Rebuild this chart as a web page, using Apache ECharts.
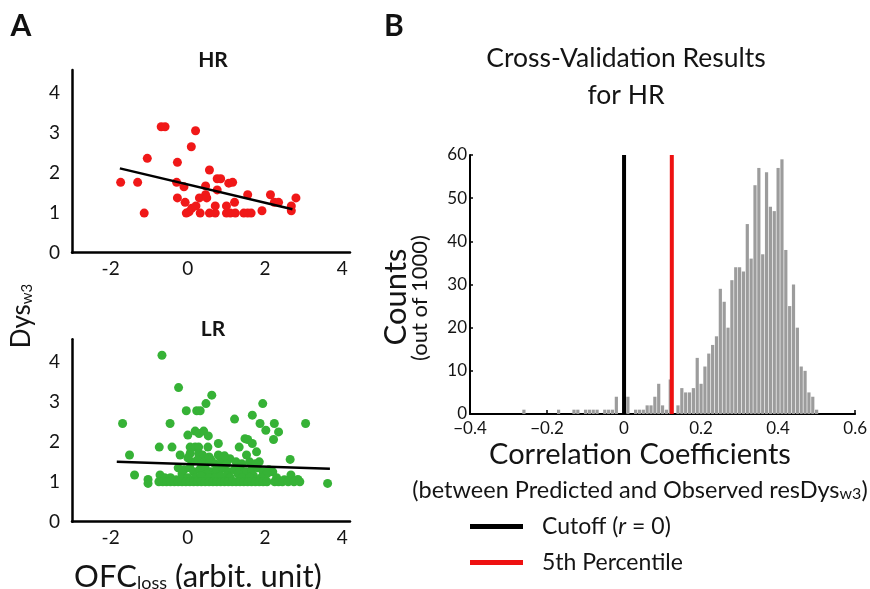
<!DOCTYPE html>
<html><head><meta charset="utf-8">
<script src="https://cdn.jsdelivr.net/npm/echarts@6/dist/echarts.min.js"></script>
<style>html,body{margin:0;padding:0;background:#fff}#c{width:870px;height:589px}</style>
</head><body><div id="c"></div>
<script>
// ---------- Panel A: HR scatter ----------
const hrX = [-1.74,-1.30,-1.13,-1.05,-0.69,-0.59,-0.27,-0.29,-0.27,-0.10,-0.07,-0.04,0.03,0.10,0.21,0.09,0.20,0.30,0.32,0.46,0.46,0.49,0.56,0.56,0.71,0.71,0.76,0.76,0.85,1.00,1.00,1.10,1.06,1.16,1.21,1.23,1.45,1.55,1.55,1.64,1.92,2.14,2.24,2.35,2.68,2.68,2.80];
const hrY = [1.76,1.76,0.99,2.36,3.15,3.15,2.26,1.76,1.37,1.65,1.26,0.99,1.02,1.11,1.17,2.65,3.05,1.37,0.99,1.67,1.45,1.37,2.07,0.99,0.99,1.17,1.57,1.85,1.85,1.17,0.99,0.99,1.74,1.76,1.26,0.99,0.99,1.45,0.99,0.99,1.05,1.45,1.26,1.26,1.17,1.05,1.37];
const hrFitX = [-1.76, 2.71];
const hrFitY = [2.11, 1.085];

// ---------- Panel A: LR scatter ----------
const lrX = [-0.67,-0.24,0.62,0.47,1.94,-0.04,0.23,0.32,1.21,1.67,-1.69,-0.46,1.87,2.24,3.05,2.02,2.35,2.22,0.00,0.19,0.29,0.41,0.53,1.48,1.55,1.67,-0.74,-0.41,0.06,0.19,0.28,0.52,0.79,1.33,-1.51,-0.20,0.06,0.28,0.38,0.79,1.09,1.52,1.78,2.65,-1.38,-1.03,-1.03,-0.72,2.67,3.62,2.85,
 0.10,0.25,0.45,0.60,0.70,0.90,1.00,1.25,1.40,1.60,1.75,1.85,0.35,0.00,0.55,0.85,0.95,
 -0.25,-0.10,0.05,0.15,0.30,0.45,0.60,0.75,0.90,1.05,1.20,1.35,1.50,1.65,1.80,1.95,2.10,2.20,-0.15,0.50,1.00,1.30,1.70,2.05,
 -0.60,-0.45,-0.30,-0.15,0.00,0.20,0.35,0.55,0.70,0.85,1.10,1.40,1.60,1.90,2.30,2.50,
 -0.75,-0.65,-0.55,-0.45,-0.35,-0.25,-0.15,-0.05,0.05,0.15,0.25,0.35,0.45,0.55,0.65,0.75,0.85,0.95,1.05,1.15,1.25,1.35,1.45,1.55,1.65,1.75,1.85,1.95,2.05,2.25,2.35,2.45,2.60,2.75,2.90];
const lrY = [4.17,3.36,3.17,2.96,2.96,2.78,2.78,2.78,2.57,2.67,2.46,2.46,2.46,2.46,2.46,2.29,2.25,2.06,2.17,2.27,2.21,2.27,2.15,2.08,2.06,1.96,1.87,1.87,1.87,1.87,1.87,1.87,1.96,1.87,1.67,1.67,1.71,1.71,1.67,1.67,1.58,1.67,1.75,1.56,1.17,1.06,0.96,1.17,1.17,0.96,1.06,
 1.50,1.55,1.50,1.55,1.45,1.50,1.45,1.50,1.45,1.50,1.45,1.50,1.45,1.60,1.62,1.60,1.65,
 1.35,1.30,1.35,1.25,1.30,1.35,1.25,1.30,1.35,1.25,1.30,1.35,1.25,1.30,1.35,1.25,1.30,1.25,1.20,1.20,1.15,1.20,1.15,1.20,
 1.10,1.10,1.05,1.10,1.10,1.10,1.15,1.10,1.10,1.15,1.10,1.10,1.10,1.10,1.10,1.05,
 1.0,1.0,1.0,1.0,1.0,1.0,1.0,1.0,1.0,1.0,1.0,1.0,1.0,1.0,1.0,1.0,1.0,1.0,1.0,1.0,1.0,1.0,1.0,1.0,1.0,1.0,1.0,1.0,1.0,1.0,1.0,1.0,1.0,1.0,1.0];
const lrFitX = [-1.84, 3.68];
const lrFitY = [1.50, 1.325];

const scatterXTicks = [-2, 0, 2, 4];
const scatterYTicks = [0, 1, 2, 3, 4];

// ---------- Panel B: histogram ----------
const histBins = [-0.26,-0.17,-0.13,-0.12,-0.10,-0.09,-0.08,-0.07,-0.05,-0.04,-0.03,-0.02,0.01,0.03,0.04,0.05,0.06,0.07,0.08,0.09,0.10,0.11,0.12,0.14,0.15,0.16,0.17,0.18,0.19,0.20,0.21,0.22,0.23,0.24,0.25,0.26,0.27,0.28,0.29,0.30,0.31,0.32,0.33,0.34,0.35,0.36,0.37,0.38,0.39,0.40,0.41,0.42,0.43,0.44,0.45,0.46,0.47,0.48,0.49,0.50];
const histCounts = [1,1,1,1,1,1,1,1,1,1,1,4,4,1,1,1,2,2,4,7,2,1,8,2,6,5,5,6,13,7,11,14,16,18,29,26,20,31,34,34,33,44,36,53,57,37,56,48,47,57,59,38,25,30,20,11,10,5,4,1];
const cutoffX = [0, 0];
const percentileX = [0.124, 0.124];
const vLineY = [0, 60];

const FONT = 'Lato';
const TXT = '#141414';

const chart = echarts.init(document.getElementById('c'));

function scatterAxes(gi) {
  return {
    x: {
      gridIndex: gi, type: 'value', min: -3, max: 4.2,
      axisLine: { onZero: false, lineStyle: { color: '#000', width: 2.5 } },
      axisTick: { show: false }, splitLine: { show: false },
      axisLabel: { customValues: scatterXTicks, fontSize: 19, color: TXT, fontFamily: FONT, margin: 7 }
    },
    y: {
      gridIndex: gi, type: 'value', min: 0, max: 4.57,
      axisLine: { onZero: false, lineStyle: { color: '#000', width: 2.5 } },
      axisTick: { show: false }, splitLine: { show: false },
      axisLabel: { customValues: scatterYTicks, fontSize: 19, color: TXT, fontFamily: FONT, margin: 12 }
    }
  };
}
const a0 = scatterAxes(0), a1 = scatterAxes(1);

function txt(x, y, text, size, extra) {
  return Object.assign({ type: 'text', x: x, y: y,
    style: Object.assign({ text: text, align: 'center', verticalAlign: 'middle', fontSize: size, fontFamily: FONT, fill: TXT }, (extra && extra.style) || {}) },
    extra && extra.rotation ? { rotation: extra.rotation } : {});
}

const option = {
  animation: false,
  backgroundColor: '#fff',
  grid: [
    { left: 72, top: 70, width: 278, height: 182.7 },
    { left: 72, top: 339.3, width: 278, height: 182.4 },
    { left: 470, top: 155, width: 390, height: 259 }
  ],
  xAxis: [a0.x, a1.x, {
    gridIndex: 2, type: 'value', min: -0.4, max: 0.6, interval: 0.2,
    axisLine: { onZero: false, lineStyle: { color: '#000', width: 2 } },
    axisTick: { show: true, inside: true, length: 4, lineStyle: { color: '#000', width: 1.5 } },
    splitLine: { show: false },
    axisLabel: { fontSize: 17, color: TXT, fontFamily: FONT, margin: 6,
      formatter: v => (Math.round(v * 10) / 10).toString().replace('-', '\u2212') }
  }],
  yAxis: [a0.y, a1.y, {
    gridIndex: 2, type: 'value', min: 0, max: 60, interval: 10,
    axisLine: { onZero: false, lineStyle: { color: '#000', width: 2 } },
    axisTick: { show: true, inside: true, length: 3, lineStyle: { color: '#000', width: 1.5 } },
    splitLine: { show: false },
    axisLabel: { fontSize: 17, color: TXT, fontFamily: FONT, margin: 3 }
  }],
  legend: {
    data: ['Cutoff', '5th Percentile'],
    orient: 'vertical', left: 470, top: 515, padding: 0, itemWidth: 53, itemHeight: 5, itemGap: 13,
    icon: 'rect', selectedMode: false,
    textStyle: { fontSize: 23, fontFamily: FONT, color: TXT, padding: [0, 0, 0, 14],
      rich: { i: { fontSize: 23, fontStyle: 'italic', fontFamily: FONT, color: TXT } } },
    formatter: n => n === 'Cutoff' ? 'Cutoff ({i|r} = 0)' : n
  },
  graphic: [
    txt(21, 26, 'A', 30, { style: { fontWeight: 'bold', fill: '#111' } }),
    txt(394, 26, 'B', 30, { style: { fontWeight: 'bold', fill: '#111' } }),
    txt(213, 60, 'HR', 21, { style: { fontWeight: 'bold' } }),
    txt(213, 329, 'LR', 21, { style: { fontWeight: 'bold' } }),
    txt(626, 58, 'Cross-Validation Results', 26.5),
    txt(626, 95, 'for HR', 26.5),
    txt(22, 316, '{a|Dys}{b|w3}', 26, { rotation: Math.PI / 2, style: {
        rich: { a: { fontSize: 26, fontFamily: FONT, fill: TXT, verticalAlign: 'bottom' }, b: { fontSize: 15, fontFamily: FONT, fill: TXT, verticalAlign: 'bottom' } } } }),
    txt(198, 577, '{a|OFC}{b|loss}{a| (arbit. unit)}', 31, { style: {
        rich: { a: { fontSize: 31, fontFamily: FONT, fill: TXT, verticalAlign: 'bottom' }, b: { fontSize: 18, fontFamily: FONT, fill: TXT, verticalAlign: 'bottom' } } } }),
    txt(396, 297, 'Counts', 31, { rotation: Math.PI / 2 }),
    txt(420, 298, '(out of 1000)', 22, { rotation: Math.PI / 2 }),
    txt(640, 455, 'Correlation Coefficients', 29),
    txt(640, 490, '{a|(between Predicted and Observed resDys}{b|w3}{a|)}', 23.5, { style: {
        rich: { a: { fontSize: 23.5, fontFamily: FONT, fill: TXT, verticalAlign: 'bottom' }, b: { fontSize: 16, fontFamily: FONT, fill: TXT, verticalAlign: 'bottom' } } } })
  ],
  series: [
    { type: 'scatter', xAxisIndex: 0, yAxisIndex: 0, symbolSize: 9, itemStyle: { color: '#f01818', opacity: 1 },
      data: hrX.map((x, i) => [x, hrY[i]]), z: 2 },
    { type: 'line', xAxisIndex: 0, yAxisIndex: 0, symbol: 'none', lineStyle: { color: '#000', width: 2.5 },
      data: hrFitX.map((x, i) => [x, hrFitY[i]]), z: 3 },
    { type: 'scatter', xAxisIndex: 1, yAxisIndex: 1, symbolSize: 9, itemStyle: { color: '#36b236', opacity: 1 },
      data: lrX.map((x, i) => [x, lrY[i]]), z: 2 },
    { type: 'line', xAxisIndex: 1, yAxisIndex: 1, symbol: 'none', lineStyle: { color: '#000', width: 2.5 },
      data: lrFitX.map((x, i) => [x, lrFitY[i]]), z: 3 },
    { type: 'bar', xAxisIndex: 2, yAxisIndex: 2, barWidth: 3.2, itemStyle: { color: '#9c9c9c' },
      data: histBins.map((b, i) => [b, histCounts[i]]) },
    { name: 'Cutoff', type: 'line', xAxisIndex: 2, yAxisIndex: 2, symbol: 'none',
      itemStyle: { color: '#000' }, lineStyle: { color: '#000', width: 4 },
      data: cutoffX.map((x, i) => [x, vLineY[i]]), z: 5 },
    { name: '5th Percentile', type: 'line', xAxisIndex: 2, yAxisIndex: 2, symbol: 'none',
      itemStyle: { color: '#ee1111' }, lineStyle: { color: '#ee1111', width: 4 },
      data: percentileX.map((x, i) => [x, vLineY[i]]), z: 5 }
  ]
};
chart.setOption(option);
</script></body></html>
